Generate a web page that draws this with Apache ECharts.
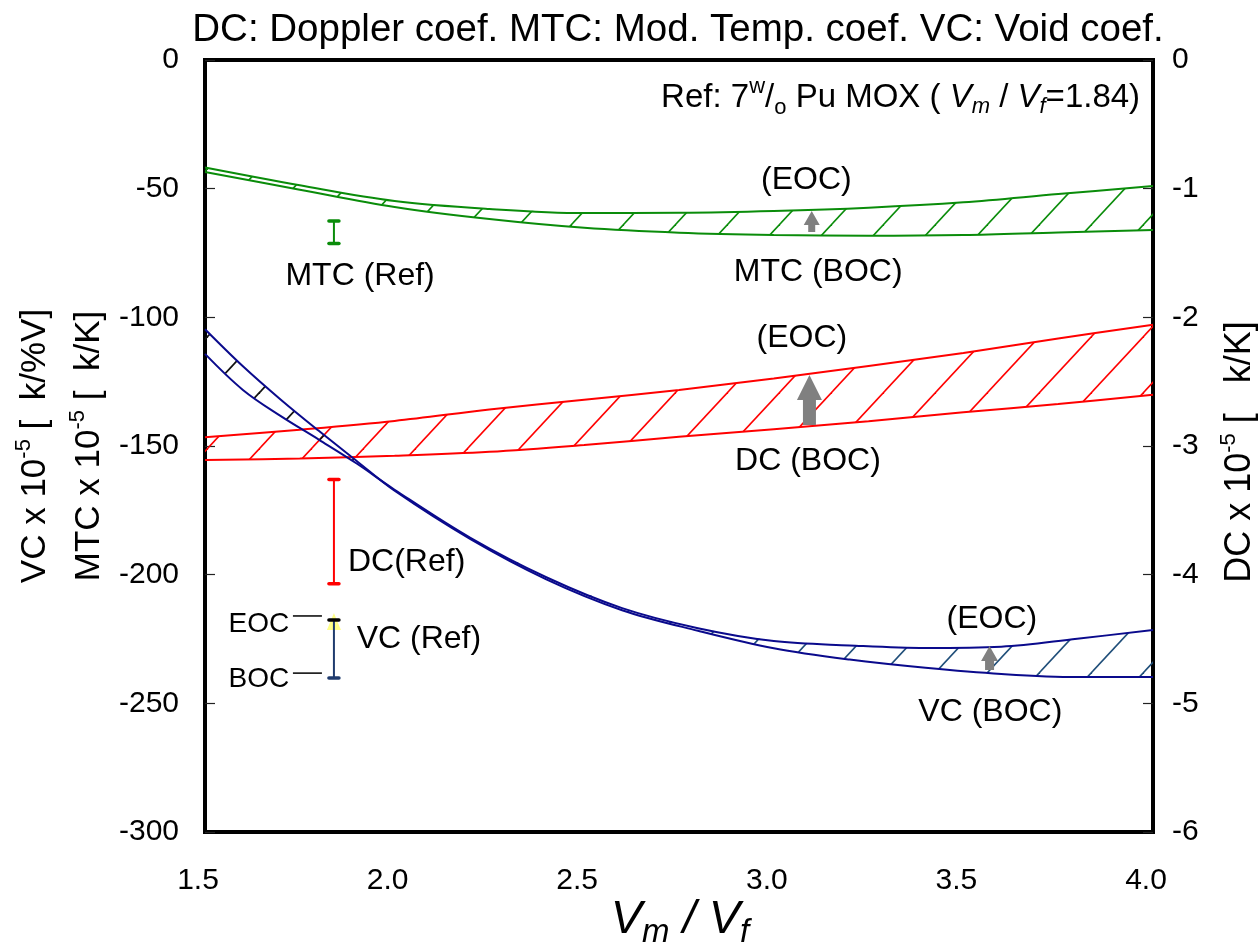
<!DOCTYPE html>
<html><head><meta charset="utf-8">
<script src="https://cdn.jsdelivr.net/npm/echarts@6/dist/echarts.min.js"></script>
<style>html,body{margin:0;padding:0;background:#fff}#c{width:1258px;height:949px}</style>
</head><body><div id="c"></div>
<script>
// ---------- data ----------
const xTickLabels = ['1.5', '2.0', '2.5', '3.0', '3.5', '4.0'];
const leftTickLabels = ['-300', '-250', '-200', '-150', '-100', '-50', '0'];
const rightTickLabels = ['-6', '-5', '-4', '-3', '-2', '-1', '0'];

const xMD = [1.5, 1.75, 2.0, 2.25, 2.5, 2.75, 3.0, 3.25, 3.5, 3.75, 4.0];
const mtcBOC = [-43.5, -50.4, -57.1, -61.8, -65.2, -67.1, -68.0, -68.3, -68.0, -67.0, -66.1];
const mtcEOC = [-41.8, -48.7, -54.8, -57.9, -59.5, -59.4, -58.7, -57.4, -55.3, -52.1, -49.0];
const dcBOC = [-3.109, -3.097, -3.076, -3.045, -2.992, -2.929, -2.869, -2.808, -2.738, -2.674, -2.601];
const dcEOC = [-2.932, -2.873, -2.805, -2.716, -2.640, -2.564, -2.475, -2.378, -2.277, -2.165, -2.057];

const xVC = [1.5, 1.6, 1.7, 1.8, 1.9, 2.0, 2.2, 2.4, 2.6, 2.8, 3.0, 3.2, 3.4, 3.6, 3.8, 4.0];
const vcBOC = [-104.6, -119.0, -132.0, -144.1, -155.8, -167.4, -186.2, -201.8, -213.8, -221.8, -228.6, -233.0, -236.2, -238.6, -239.8, -239.8];
const vcEOC = [-114.2, -128.2, -138.4, -147.5, -156.8, -167.0, -185.7, -201.0, -213.0, -220.8, -225.8, -227.5, -228.5, -228.0, -224.9, -221.5];

// reference values at Vm/Vf = 1.84 : [x, upper(EOC), lower(BOC)]
const mtcRef = [1.84, -62.6, -71.3];
const dcRef = [1.84, -3.26, -4.07];
const vcRef = [1.84, -217.6, -240.2];

// BOC -> EOC arrows : [x, BOC value, EOC value]
const mtcArrow = [3.10, -66.8, -58.7];
const dcArrow = [3.094, -2.837, -2.448];
const vcArrow = [3.569, -237.0, -227.7];

// annotation texts
const noteTexts = ['MTC (Ref)', '(EOC)', 'MTC (BOC)', '(EOC)', 'DC (BOC)', 'DC(Ref)', 'VC (Ref)', 'EOC', 'BOC', '(EOC)', 'VC (BOC)'];
const noteAnchors = [[1.909, -83.9], [3.086, -46.6], [3.117, -82.4], [3.074, -108.0], [3.090, -155.8],
  [1.877, -195.0], [1.900, -225.0], [1.722, -219.2], [1.722, -240.5], [3.575, -217.2], [3.571, -253.4]];
const noteAlign = ['center', 'center', 'center', 'center', 'center', 'left', 'left', 'right', 'right', 'center', 'center'];
const noteSize = [32, 32, 32, 32, 32, 32, 32, 28, 28, 32, 32];

// ---------- helpers ----------
const FONT = '"Liberation Sans", Arial, Helvetica, sans-serif';
const GREEN = '#0a8c0a', RED = '#ff0000', NAVY = '#0a0a8c';

function hatch(color, lw) {
  const w = 52, h = 56;
  const c = document.createElement('canvas');
  c.width = w; c.height = h;
  const g = c.getContext('2d');
  g.strokeStyle = color; g.lineWidth = lw;
  for (const dx of [-w, 0, w]) {
    g.beginPath();
    g.moveTo(dx - w * 0.5, h * 1.5);
    g.lineTo(dx + w * 1.5, -h * 0.5);
    g.stroke();
  }
  return { image: c, repeat: 'repeat' };
}

function band(xs, lo, hi, i0, i1, pattern, yAxisIndex) {
  return {
    type: 'custom', yAxisIndex, z: 1, silent: true, clip: true,
    data: [[xs[i0], lo[i0]]],
    renderItem(params, api) {
      const pts = [];
      for (let i = i0; i <= i1; i++) pts.push(api.coord([xs[i], hi[i]]));
      for (let i = i1; i >= i0; i--) pts.push(api.coord([xs[i], lo[i]]));
      return { type: 'polygon', shape: { points: pts }, style: { fill: pattern } };
    }
  };
}

function curve(xs, ys, color, yAxisIndex) {
  return {
    type: 'line', yAxisIndex, z: 3, silent: true, smooth: 0.35, symbol: 'none',
    data: xs.map((x, i) => [x, ys[i]]),
    lineStyle: { color, width: 2 }
  };
}

function refBar(ref, color, yAxisIndex, extra) {
  return {
    type: 'custom', yAxisIndex, z: 4, silent: true,
    data: [ref],
    renderItem(params, api) {
      const t = api.coord([api.value(0), api.value(1)]);
      const b = api.coord([api.value(0), api.value(2)]);
      const ch = [];
      if (extra) {
        ch.push({ type: 'polygon', shape: { points: [[t[0] - 7, t[1] + 10], [t[0] + 7, t[1] + 10], [t[0], t[1] - 7]] }, style: { fill: '#ffff88' } });
      }
      ch.push({ type: 'line', shape: { x1: t[0], y1: t[1], x2: b[0], y2: b[1] }, style: { stroke: color, lineWidth: 2 } });
      ch.push({ type: 'line', shape: { x1: t[0] - 5, y1: t[1], x2: t[0] + 5, y2: t[1] }, style: { stroke: extra ? '#000' : color, lineWidth: 3.5, lineCap: 'round' } });
      ch.push({ type: 'line', shape: { x1: b[0] - 5, y1: b[1], x2: b[0] + 5, y2: b[1] }, style: { stroke: color, lineWidth: 3.5, lineCap: 'round' } });
      if (extra) {
        ch.push({ type: 'line', shape: { x1: t[0] - 41, y1: t[1] - 4, x2: t[0] - 12, y2: t[1] - 4 }, style: { stroke: '#000', lineWidth: 1.5 } });
        ch.push({ type: 'line', shape: { x1: b[0] - 41, y1: b[1] - 5, x2: b[0] - 12, y2: b[1] - 5 }, style: { stroke: '#000', lineWidth: 1.5 } });
      }
      return { type: 'group', children: ch };
    }
  };
}

function arrow(a, yAxisIndex, headH, headHW, shaftHW) {
  return {
    type: 'custom', yAxisIndex, z: 4, silent: true,
    data: [a],
    renderItem(params, api) {
      const p0 = api.coord([api.value(0), api.value(1)]);
      const p1 = api.coord([api.value(0), api.value(2)]);
      const x = p0[0], yb = p0[1], yt = p1[1], yh = yt + headH;
      return {
        type: 'polygon',
        shape: { points: [[x - shaftHW, yb], [x - shaftHW, yh], [x - headHW, yh], [x, yt], [x + headHW, yh], [x + shaftHW, yh], [x + shaftHW, yb]] },
        style: { fill: '#808080' }
      };
    }
  };
}

const notesSeries = {
  type: 'custom', z: 6, silent: true,
  data: noteAnchors.map((p, i) => [p[0], p[1], i]),
  renderItem(params, api) {
    const p = api.coord([api.value(0), api.value(1)]);
    const i = api.value(2);
    return {
      type: 'text', x: p[0], y: p[1],
      style: { text: noteTexts[i], fontSize: noteSize[i], fontFamily: FONT, fill: '#000', textAlign: noteAlign[i], textVerticalAlign: 'middle' }
    };
  }
};

const refLabel = {
  type: 'custom', z: 6, silent: true,
  data: [[3.966, -14.8]],
  renderItem(params, api) {
    const p = api.coord([api.value(0), api.value(1)]);
    return {
      type: 'text', x: p[0], y: p[1],
      style: {
        text: 'Ref: 7{sup|w}/{sub|o} Pu MOX ( {iv|V}{isub|m} / {iv|V}{isub|f}=1.84)',
        fontSize: 33, fontFamily: FONT, fill: '#000', textAlign: 'right', textVerticalAlign: 'middle',
        rich: {
          sup: { fontSize: 22, fontFamily: FONT, fill: '#000', padding: [0, 0, 22, 0] },
          sub: { fontSize: 22, fontFamily: FONT, fill: '#000', padding: [20, 0, 0, 0] },
          iv: { fontSize: 33, fontFamily: FONT, fontStyle: 'italic', fill: '#000' },
          isub: { fontSize: 22, fontFamily: FONT, fontStyle: 'italic', fill: '#000', padding: [18, 0, 0, 0] }
        }
      }
    };
  }
};

const axisNameRich = {
  s: { fontSize: 22, fontFamily: FONT, fill: '#000', padding: [0, 0, 22, 0] }
};

const chart = echarts.init(document.getElementById('c'), null, { renderer: 'canvas' });
chart.setOption({
  animation: false,
  backgroundColor: '#fff',
  grid: { left: 205, right: 105, top: 60, bottom: 117, show: true, borderColor: '#000', borderWidth: 4, backgroundColor: 'transparent' },
  xAxis: {
    type: 'value', min: 1.5, max: 4.0, interval: 0.5,
    axisLine: { show: false }, axisTick: { show: false }, splitLine: { show: false },
    axisLabel: {
      margin: 34, fontSize: 30, fontFamily: FONT, color: '#000', padding: [0, 14, 0, 0],
      formatter: v => xTickLabels[Math.round((v - 1.5) / 0.5)]
    }
  },
  yAxis: [
    {
      type: 'value', min: -300, max: 0, interval: 50, position: 'left',
      axisLine: { show: false }, splitLine: { show: false },
      axisTick: { show: true, inside: true, length: 10, lineStyle: { color: '#222', width: 1.2 } },
      axisLabel: { margin: 26, fontSize: 30, fontFamily: FONT, color: '#000', formatter: v => leftTickLabels[Math.round((v + 300) / 50)] }
    },
    {
      type: 'value', min: -6, max: 0, interval: 1, position: 'right',
      axisLine: { show: false }, splitLine: { show: false },
      axisTick: { show: true, inside: true, length: 10, lineStyle: { color: '#222', width: 1.2 } },
      axisLabel: { margin: 19, fontSize: 30, fontFamily: FONT, color: '#000', formatter: v => rightTickLabels[Math.round(v + 6)] }
    }
  ],
  graphic: [
    { type: 'text', x: 678, y: 30, silent: true, style: { text: 'DC: Doppler coef. MTC: Mod. Temp. coef. VC: Void coef.', fontSize: 38.5, fontFamily: FONT, fill: '#000', textAlign: 'center', textVerticalAlign: 'middle' } },
    { type: 'text', x: 35, y: 446, rotation: Math.PI / 2, silent: true, style: { text: 'VC x 10{s|-5} [  k/%V]', fontSize: 35, fontFamily: FONT, fill: '#000', textAlign: 'center', textVerticalAlign: 'middle', rich: axisNameRich } },
    { type: 'text', x: 89, y: 446, rotation: Math.PI / 2, silent: true, style: { text: 'MTC x 10{s|-5} [  k/K]', fontSize: 35, fontFamily: FONT, fill: '#000', textAlign: 'center', textVerticalAlign: 'middle', rich: axisNameRich } },
    { type: 'text', x: 1240, y: 452, rotation: Math.PI / 2, silent: true, style: { text: 'DC x 10{s|-5} [   k/K]', fontSize: 36, fontFamily: FONT, fill: '#000', textAlign: 'center', textVerticalAlign: 'middle', rich: axisNameRich } },
    { type: 'text', x: 680, y: 920, silent: true, style: {
      text: '{v|V}{s|m}{v| / }{v|V}{s|f}', textAlign: 'center', textVerticalAlign: 'middle',
      rich: {
        v: { fontSize: 47, fontFamily: FONT, fontStyle: 'italic', fill: '#000' },
        s: { fontSize: 33, fontFamily: FONT, fontStyle: 'italic', fill: '#000', padding: [26, 0, 0, 0] }
      }
    } }
  ],
  series: [
    band(xMD, mtcBOC, mtcEOC, 0, xMD.length - 1, hatch(GREEN, 1.6), 0),
    band(xMD, dcBOC, dcEOC, 0, xMD.length - 1, hatch(RED, 1.6), 1),
    band(xVC, vcBOC, vcEOC, 0, 5, hatch('#111', 1.8), 0),
    band(xVC, vcBOC, vcEOC, 5, xVC.length - 1, hatch('#1f4e79', 1.6), 0),
    curve(xMD, mtcBOC, GREEN, 0),
    curve(xMD, mtcEOC, GREEN, 0),
    curve(xMD, dcBOC, RED, 1),
    curve(xMD, dcEOC, RED, 1),
    curve(xVC, vcBOC, NAVY, 0),
    curve(xVC, vcEOC, NAVY, 0),
    refBar(mtcRef, GREEN, 0, false),
    refBar(dcRef, RED, 1, false),
    refBar(vcRef, '#1f3b6e', 0, true),
    arrow(mtcArrow, 0, 14, 8, 3.5),
    arrow(dcArrow, 1, 25, 12.5, 6.5),
    arrow(vcArrow, 0, 15, 8.5, 4.5),
    notesSeries,
    refLabel
  ]
});
</script>
</body></html>
